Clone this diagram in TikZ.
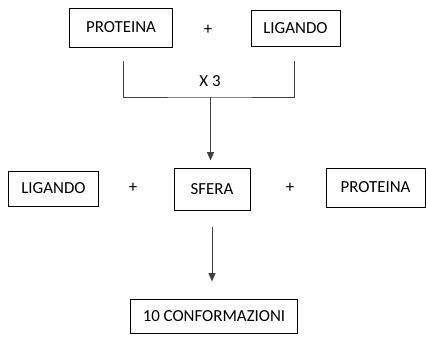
\documentclass[tikz,border=0pt]{standalone}
\usepackage{fontspec}
\setmainfont{Carlito}
\usetikzlibrary{arrows.meta}

\begin{document}
\begin{tikzpicture}[x=0.025cm, y=-0.025cm,
  box/.style={rectangle, draw, line width=0.7pt, inner sep=0pt, align=center, font=\fontsize{12}{14}\selectfont},
  txt/.style={font=\fontsize{12}{14}\selectfont},
  arr/.style={-{Triangle[width=5pt,length=6pt]}, line width=0.7pt, draw=black!75}]
\useasboundingbox (0,0) rectangle (426,344);
%%%%%%%%%%%%%%%%%%%
\node[box, minimum width=2.55cm, minimum height=0.975cm] (prot1) at (121,27.5) {PROTEINA};
\node[txt] (plus1) at (208,30) {+};
\node[box, minimum width=2.225cm, minimum height=0.9cm] (lig1) at (295.5,28) {LIGANDO};

\node[box, minimum width=2.225cm, minimum height=0.875cm] (lig2) at (53.5,188.5) {LIGANDO};
\node[txt] (plus2) at (133,188) {+};
\node[box, minimum width=1.9cm, minimum height=1.05cm] (sfera) at (212,189) {SFERA};
\node[txt] (plus3) at (290,188) {+};
\node[box, minimum width=2.475cm, minimum height=0.975cm] (prot2) at (375.5,187.5) {PROTEINA};

\node[box, minimum width=4.15cm, minimum height=0.85cm] (conf) at (214,316) {10 CONFORMAZIONI};

%%%%%%%%%%%%%%%%%%%
\coordinate (bl) at (123.5,61);
\coordinate (br) at (294,61);
\coordinate (bm) at (210.5,97);
\draw[line width=0.7pt, draw=black!75] (bl) |- (bm) -| (br);
\node[txt] (x3) at (210,81) {X 3};

\draw[arr, shorten >=0.175cm] (bm) -- (bm |- sfera.north);
\draw[arr, shorten <=0.4cm, shorten >=0.425cm] (sfera.south) -- (sfera.south |- conf.north);
\end{tikzpicture}
\end{document}
